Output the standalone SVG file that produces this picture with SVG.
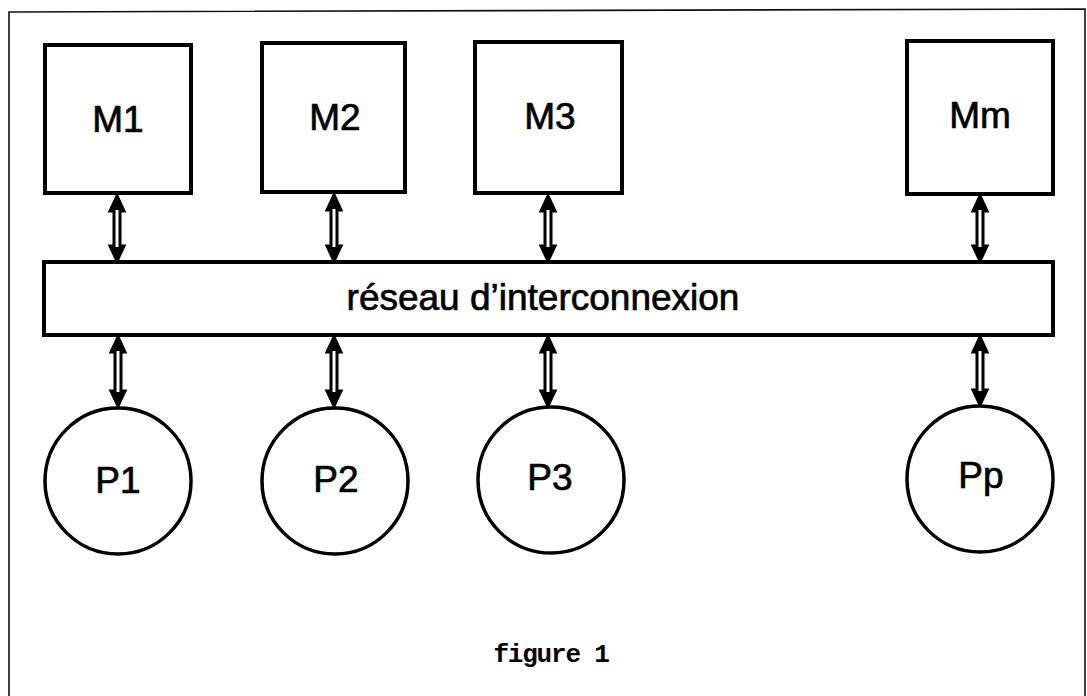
<svg xmlns="http://www.w3.org/2000/svg" width="1087" height="696" viewBox="0 0 1087 696">
<style>
.frame{fill:none;stroke:#111;stroke-width:1.6}
.box{fill:#fff;stroke:#000;stroke-width:4}
.proc{fill:#fff;stroke:#000;stroke-width:3.5}
.lbl{font-family:"Liberation Sans",Arial,sans-serif;font-size:37px;fill:#000;stroke:#000;stroke-width:0.7;text-anchor:middle}
.cap{font-family:"Liberation Mono","Courier New",monospace;font-size:26px;letter-spacing:-1.2px;font-weight:bold;fill:#000;text-anchor:middle}
.arr{fill:#fff;stroke:#000;stroke-width:3;stroke-linejoin:miter}
.hd{fill:#000}
</style>
<defs>
<path id="hup" class="hd" d="M0,0 L6,13 L-6,13 Z"/>
<path id="hdn" class="hd" d="M0,0 L6,-13 L-6,-13 Z"/>
</defs>
<rect width="1087" height="696" fill="#fff"/>
<path class="frame" d="M9,696 L9,12 L1085,9 L1085,696"/>
<g id="connectors">
<path class="arr" d="M117,196 L124,211 L120,211 L120,246 L124,246 L117,261 L110,246 L114,246 L114,211 L110,211 Z"/>
<path class="arr" d="M334,195 L341,210 L337,210 L337,246 L341,246 L334,261 L327,246 L331,246 L331,210 L327,210 Z"/>
<path class="arr" d="M548,196 L555,211 L551,211 L551,246 L555,246 L548,261 L541,246 L545,246 L545,211 L541,211 Z"/>
<path class="arr" d="M980,196 L987,211 L983,211 L983,246 L987,246 L980,261 L973,246 L977,246 L977,211 L973,211 Z"/>
<path class="arr" d="M118,337 L125,352 L121,352 L121,391 L125,391 L118,406 L111,391 L115,391 L115,352 L111,352 Z"/>
<path class="arr" d="M334,337 L341,352 L337,352 L337,391 L341,391 L334,406 L327,391 L331,391 L331,352 L327,352 Z"/>
<path class="arr" d="M548,337 L555,352 L551,352 L551,391 L555,391 L548,406 L541,391 L545,391 L545,352 L541,352 Z"/>
<path class="arr" d="M980,337 L987,352 L983,352 L983,390 L987,390 L980,405 L973,390 L977,390 L977,352 L973,352 Z"/>
<use href="#hup" x="117" y="197"/><use href="#hdn" x="117" y="260"/>
<use href="#hup" x="334" y="196"/><use href="#hdn" x="334" y="260"/>
<use href="#hup" x="548" y="197"/><use href="#hdn" x="548" y="260"/>
<use href="#hup" x="980" y="197"/><use href="#hdn" x="980" y="260"/>
<use href="#hup" x="118" y="338"/><use href="#hdn" x="118" y="405"/>
<use href="#hup" x="334" y="338"/><use href="#hdn" x="334" y="405"/>
<use href="#hup" x="548" y="338"/><use href="#hdn" x="548" y="405"/>
<use href="#hup" x="980" y="338"/><use href="#hdn" x="980" y="404"/>
</g>
<g id="M1"><rect class="box" x="45" y="45" width="146" height="148"/><text class="lbl" x="118" y="132">M1</text></g>
<g id="M2"><rect class="box" x="262" y="43" width="143" height="149"/><text class="lbl" x="335" y="130">M2</text></g>
<g id="M3"><rect class="box" x="475" y="42" width="147" height="151"/><text class="lbl" x="550" y="129">M3</text></g>
<g id="Mm"><rect class="box" x="907" y="41" width="146" height="153"/><text class="lbl" x="980" y="128">Mm</text></g>
<g id="reseau"><rect class="box" x="44" y="262" width="1009" height="73"/><text class="lbl" x="543" y="310">réseau d’interconnexion</text></g>
<g id="P1"><circle class="proc" cx="118" cy="481" r="73"/><text class="lbl" x="118" y="493">P1</text></g>
<g id="P2"><circle class="proc" cx="335" cy="481" r="73"/><text class="lbl" x="336" y="492">P2</text></g>
<g id="P3"><circle class="proc" cx="551" cy="480" r="73"/><text class="lbl" x="550" y="490">P3</text></g>
<g id="Pp"><circle class="proc" cx="980" cy="479" r="73"/><text class="lbl" x="981" y="488">Pp</text></g>
<text class="cap" x="551" y="662">figure 1</text>
</svg>
